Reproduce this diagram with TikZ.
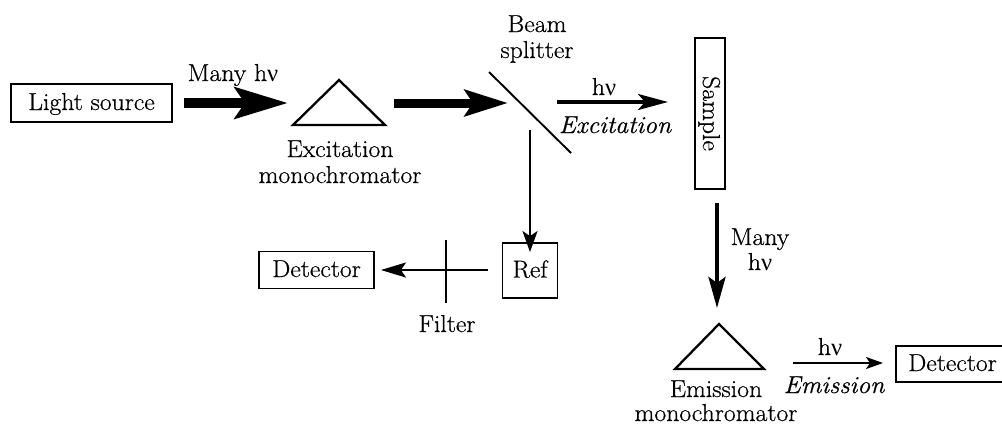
\documentclass[tikz,border=0pt]{standalone}
\usepackage{fontspec}
\setmainfont{Latin Modern Roman}[FakeBold=0.6, FakeStretch=1.05]
\newfontfamily\grk{Liberation Serif}
\usetikzlibrary{arrows.meta}
\newcommand{\hnu}{h{\grk ν}}
\begin{document}
\begin{tikzpicture}[x=1pt,y=-1pt,
  font=\fontsize{24.5}{27}\selectfont,
  box/.style={draw, line width=1.9pt, inner sep=0pt, text height=17pt, text depth=3pt},
  lbl/.style={inner sep=0pt, anchor=base},
  thin/.style={line width=1.9pt},
  fat1/.style={line width=10pt, -{Stealth[length=53pt,width=31pt,inset=10pt]}},
  fat2/.style={line width=9pt, -{Stealth[length=43pt,width=26pt,inset=8pt]}},
  midarr/.style={line width=3.5pt, -{Stealth[length=30pt,width=16pt,inset=7pt]}},
  downarr/.style={line width=4pt, -{Stealth[length=31pt,width=17pt,inset=6pt]}},
  thinarr/.style={line width=1.9pt, -{Stealth[length=21pt,width=15pt,inset=5pt]}},
  smallarr/.style={line width=1.9pt, -{Stealth[length=17pt,width=12pt,inset=4pt]}},
  prism/.style={line width=2.3pt, line join=miter}]
\useasboundingbox (0,0) rectangle (1002,424);

% boxes
\node[box, minimum width=161pt, minimum height=38pt] (ls) at (91.5,103) {Light source};
\node[box, minimum width=115pt, minimum height=37pt] (det1) at (316.5,270) {Detector};
\node[box, minimum width=55pt, minimum height=55pt] (ref) at (530,270.5) {Ref};
\node[box, minimum width=113pt, minimum height=36pt] (det2) at (952.5,364) {Detector};
\node[box, rotate=-90, minimum width=151pt, minimum height=30pt] (sample) at (710,113.5) {Sample};

% prisms
\coordinate (p1a) at (339,80);
\coordinate (p1b) at (293,125);
\coordinate (p1c) at (385,125);
\draw[prism] (p1a) -- (p1b) -- (p1c) -- cycle;
\coordinate (p2a) at (719,324);
\coordinate (p2b) at (675,369);
\coordinate (p2c) at (764,369);
\draw[prism] (p2a) -- (p2b) -- (p2c) -- cycle;

% beam splitter and filter
\coordinate (bs1) at (489,72);
\coordinate (bs2) at (571,153);
\draw[thin] (bs1) -- (bs2);
\coordinate (f1) at (446,240);
\coordinate (f2) at (446,303);
\draw[thin] (f1) -- (f2);

% arrow end points
\coordinate (a1e) at (288,103);
\coordinate (a2s) at (394,103);
\coordinate (a2e) at (508,103);
\coordinate (a3s) at (557,102);
\coordinate (a3e) at (668,102);
\coordinate (a4s) at (530,130);
\coordinate (a5s) at (717,203);
\coordinate (a5e) at (717,308);
\coordinate (a6s) at (793,363);
\coordinate (a6e) at (883,363);

% arrows
\draw[fat1] ([xshift=11pt]ls.east) -- (a1e);
\draw[fat2] (a2s) -- (a2e);
\draw[midarr] (a3s) -- (a3e);
\draw[thinarr] (a4s) -- ([yshift=-10pt]ref.north);
\draw[thinarr, -{Stealth[length=25pt,width=15pt,inset=5pt]}] ([xshift=-14pt]ref.west |- det1.east) -- ([xshift=6pt]det1.east);
\draw[downarr] (a5s) -- (a5e);
\draw[smallarr] (a6s) -- (a6e);

% labels
\node[lbl] (l1) at (233,81) {Many \hnu};
\node[lbl] (l2) at (340,157) {Excitation};
\node[lbl] (l3) at (340,183) {monochromator};
\node[lbl] (l4) at (537,32) {Beam};
\node[lbl] (l5) at (537,58) {splitter};
\node[lbl] (l6) at (604,95) {\hnu};
\node[lbl] (l7) at (615,133) {\itshape Excitation};
\node[lbl] (l8) at (760,245) {Many};
\node[lbl] (l9) at (760,270) {\hnu};
\node[lbl] (l10) at (447,332) {Filter};
\node[lbl] (l11) at (716,397) {Emission};
\node[lbl] (l12) at (716,421) {monochromator};
\node[lbl] (l13) at (830,355) {\hnu};
\node[lbl] (l14) at (834,393) {\itshape Emission};
\end{tikzpicture}
\end{document}
